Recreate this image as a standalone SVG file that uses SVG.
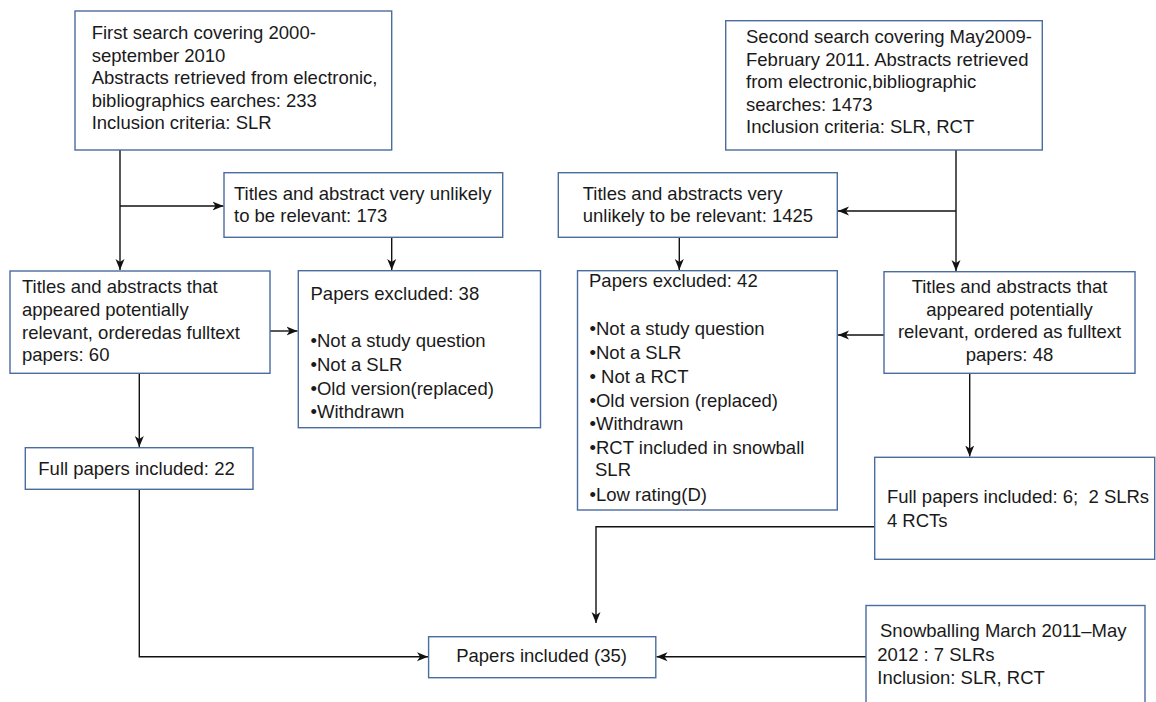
<svg xmlns="http://www.w3.org/2000/svg" width="1156" height="702" viewBox="0 0 1156 702">
<style>
.box{fill:#fff;stroke:#4a6c9e;stroke-width:1.4}
.t{font-family:"Liberation Sans",Arial,sans-serif;font-size:18.5px;fill:#1a1a1a;white-space:pre}
.c{text-anchor:middle}
.ln{fill:none;stroke:#111;stroke-width:1.4}
</style>
<defs>
<marker id="ah" markerUnits="userSpaceOnUse" markerWidth="12" markerHeight="10" refX="11" refY="5" orient="auto">
<path d="M0,0.5 L11,5 L0,9.5 L3,5 Z" fill="#111"/>
</marker>
</defs>
<rect width="1156" height="702" fill="#fff"/>
<g id="connectors">
<path class="ln" d="M120,150 V270" marker-end="url(#ah)"/>
<path class="ln" d="M120,206 H223.5" marker-end="url(#ah)"/>
<path class="ln" d="M391.7,237.3 V270" marker-end="url(#ah)"/>
<path class="ln" d="M270,331 H297.5" marker-end="url(#ah)"/>
<path class="ln" d="M139.3,373.3 V447" marker-end="url(#ah)"/>
<path class="ln" d="M139.3,489.3 V656.7 H428" marker-end="url(#ah)"/>
<path class="ln" d="M956,150 V271" marker-end="url(#ah)"/>
<path class="ln" d="M956,211 H838" marker-end="url(#ah)"/>
<path class="ln" d="M679.3,237.3 V270" marker-end="url(#ah)"/>
<path class="ln" d="M884,335 H838" marker-end="url(#ah)"/>
<path class="ln" d="M969.7,373.3 V456.5" marker-end="url(#ah)"/>
<path class="ln" d="M874.7,526.7 H596 V623" marker-end="url(#ah)"/>
<path class="ln" d="M866,656.7 H656.5" marker-end="url(#ah)"/>
</g>
<g id="first-search">
<rect class="box" x="75" y="11" width="316.7" height="139"/>
<text class="t" x="91.7" y="39">First search covering 2000-</text>
<text class="t" x="91.7" y="61.5">september 2010</text>
<text class="t" x="91.7" y="84">Abstracts retrieved from electronic,</text>
<text class="t" x="91.7" y="106.5">bibliographics earches: 233</text>
<text class="t" x="91.7" y="129">Inclusion criteria: SLR</text>
</g>
<g id="second-search">
<rect class="box" x="725.7" y="20.7" width="316.6" height="129.3"/>
<text class="t" x="746" y="43">Second search covering May2009-</text>
<text class="t" x="746" y="65.5">February 2011. Abstracts retrieved</text>
<text class="t" x="746" y="88">from electronic,bibliographic</text>
<text class="t" x="746" y="110.5">searches: 1473</text>
<text class="t" x="746" y="133">Inclusion criteria: SLR, RCT</text>
</g>
<g id="unlikely-173">
<rect class="box" x="224" y="172.7" width="278.7" height="64.6"/>
<text class="t" x="234" y="200">Titles and abstract very unlikely</text>
<text class="t" x="234" y="221.7">to be relevant: 173</text>
</g>
<g id="unlikely-1425">
<rect class="box" x="558.3" y="172.7" width="279" height="64.6"/>
<text class="t" x="582.7" y="200">Titles and abstracts very</text>
<text class="t" x="582.7" y="221.7">unlikely to be relevant: 1425</text>
</g>
<g id="relevant-60">
<rect class="box" x="10" y="271" width="260" height="102.3"/>
<text class="t" x="22" y="293.3">Titles and abstracts that</text>
<text class="t" x="22" y="316">appeared potentially</text>
<text class="t" x="22" y="338.5">relevant, orderedas fulltext</text>
<text class="t" x="22" y="361">papers: 60</text>
</g>
<g id="excluded-38">
<rect class="box" x="298.3" y="270.7" width="242.2" height="157"/>
<text class="t" x="310.5" y="300">Papers excluded: 38</text>
<text class="t" x="310.5" y="346.7">•Not a study question</text>
<text class="t" x="310.5" y="370.7">•Not a SLR</text>
<text class="t" x="310.5" y="395">•Old version(replaced)</text>
<text class="t" x="310.5" y="418.3">•Withdrawn</text>
</g>
<g id="excluded-42">
<rect class="box" x="577.5" y="270.7" width="259.8" height="239.3"/>
<text class="t" x="589" y="286.7">Papers excluded: 42</text>
<text class="t" x="589.5" y="335">•Not a study question</text>
<text class="t" x="589.5" y="359">•Not a SLR</text>
<text class="t" x="589.5" y="382.7">• Not a RCT</text>
<text class="t" x="589.5" y="406.5">•Old version (replaced)</text>
<text class="t" x="589.5" y="430">•Withdrawn</text>
<text class="t" x="589.5" y="454">•RCT included in snowball</text>
<text class="t" x="595" y="475.5">SLR</text>
<text class="t" x="589.5" y="501">•Low rating(D)</text>
</g>
<g id="relevant-48">
<rect class="box" x="884" y="271.7" width="251" height="101.6"/>
<text class="t c" x="1009.5" y="293.3">Titles and abstracts that</text>
<text class="t c" x="1009.5" y="316">appeared potentially</text>
<text class="t c" x="1009.5" y="338.3">relevant, ordered as fulltext</text>
<text class="t c" x="1009.5" y="360.7">papers: 48</text>
</g>
<g id="full-22">
<rect class="box" x="25.3" y="447.7" width="227.7" height="41.6"/>
<text class="t" x="38.3" y="475">Full papers included: 22</text>
</g>
<g id="full-6">
<rect class="box" x="874.7" y="457.3" width="280" height="102"/>
<text class="t" x="886.9" y="503.3">Full papers included: 6;  2 SLRs</text>
<text class="t" x="886.9" y="526.7">4 RCTs</text>
</g>
<g id="papers-included">
<rect class="box" x="428.6" y="636.7" width="227.2" height="41"/>
<text class="t" x="456.2" y="661.7">Papers included (35)</text>
</g>
<g id="snowballing">
<rect class="box" x="866" y="605.5" width="279" height="120"/>
<text class="t" x="880" y="636.7">Snowballing March 2011–May</text>
<text class="t" x="877.3" y="660.7">2012 : 7 SLRs</text>
<text class="t" x="877.3" y="684">Inclusion: SLR, RCT</text>
</g>
</svg>
